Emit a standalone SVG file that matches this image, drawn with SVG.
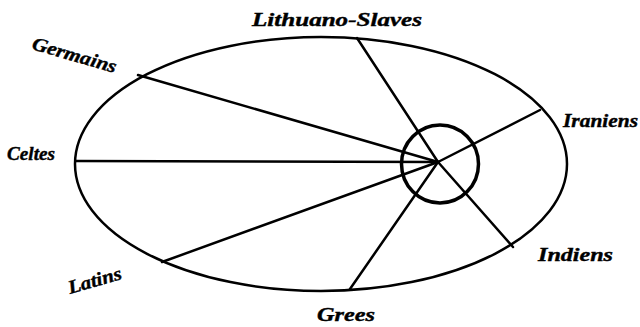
<svg xmlns="http://www.w3.org/2000/svg" width="640" height="327" viewBox="0 0 640 327">
<style>
.lbl{font-family:"Liberation Serif","DejaVu Serif",serif;font-style:italic;font-weight:bold;font-size:19px;fill:#000;stroke:#000;stroke-width:0.4}
.ray{stroke:#000;stroke-width:2.5;stroke-linecap:round;fill:none}
</style>
<rect width="640" height="327" fill="#fff"/>
<g id="outer"><ellipse cx="321" cy="164" rx="246" ry="127" fill="none" stroke="#000" stroke-width="2.5"/></g>
<g id="core"><ellipse cx="440" cy="164" rx="38.5" ry="39" fill="none" stroke="#000" stroke-width="3.5"/></g>
<g id="connectors">
<line class="ray" x1="438" y1="162" x2="357" y2="38"/>
<line class="ray" x1="438" y1="162" x2="138" y2="75"/>
<line class="ray" x1="438" y1="162" x2="76" y2="161"/>
<line class="ray" x1="438" y1="162" x2="162" y2="262"/>
<line class="ray" x1="438" y1="162" x2="350" y2="289"/>
<line class="ray" x1="438" y1="162" x2="513" y2="247"/>
<line class="ray" x1="438" y1="162" x2="540" y2="110"/>
</g>
<g id="lithuano"><text class="lbl" x="252" y="26" textLength="170" lengthAdjust="spacingAndGlyphs">Lithuano-Slaves</text></g>
<g id="germains"><text class="lbl" font-size="17" transform="translate(31,49) rotate(16)" textLength="87" lengthAdjust="spacingAndGlyphs">Germains</text></g>
<g id="celtes"><text class="lbl" font-size="17" x="7" y="160" textLength="48" lengthAdjust="spacingAndGlyphs">Celtes</text></g>
<g id="iraniens"><text class="lbl" font-size="17" x="563" y="127" textLength="75" lengthAdjust="spacingAndGlyphs">Iraniens</text></g>
<g id="indiens"><text class="lbl" font-size="17" x="538" y="261" textLength="75" lengthAdjust="spacingAndGlyphs">Indiens</text></g>
<g id="latins"><text class="lbl" font-size="17" transform="translate(70,294) rotate(-16)" textLength="55" lengthAdjust="spacingAndGlyphs">Latins</text></g>
<g id="grees"><text class="lbl" x="317" y="321" textLength="58" lengthAdjust="spacingAndGlyphs">Grees</text></g>
</svg>
